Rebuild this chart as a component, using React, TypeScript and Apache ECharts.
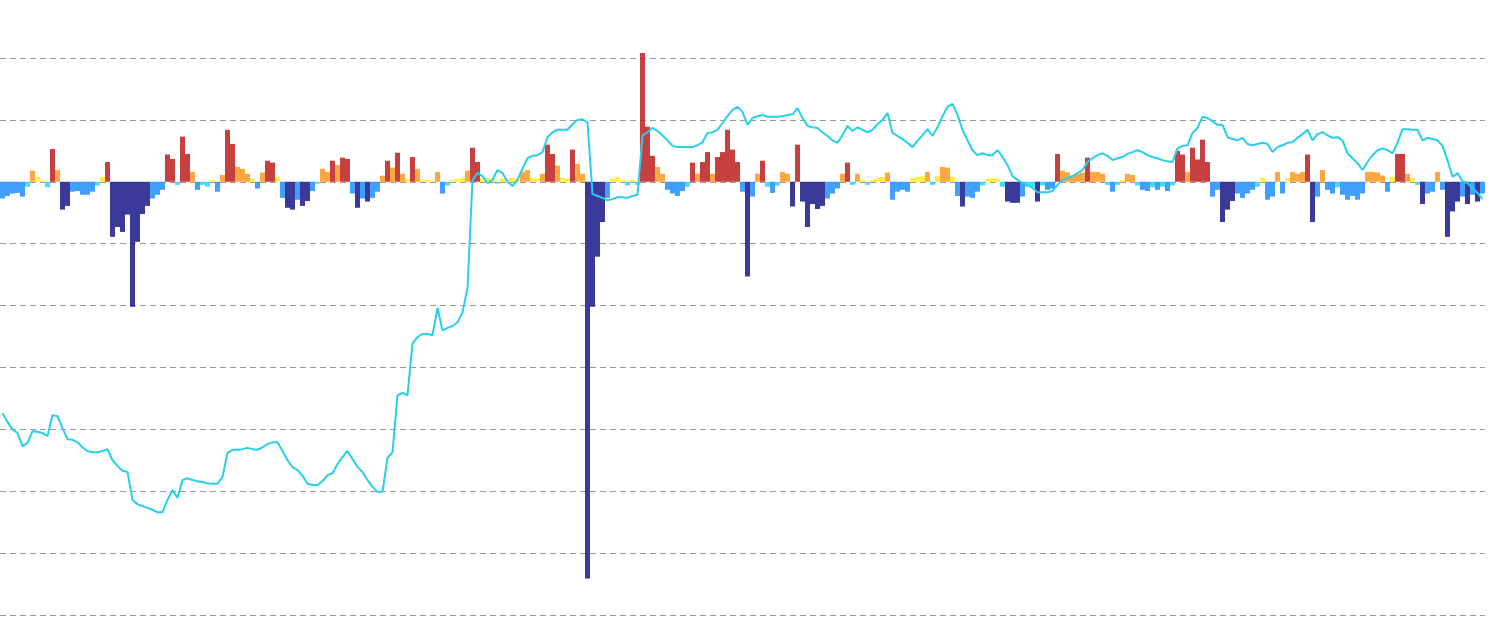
import React, { useEffect, useRef } from "react";
import * as echarts from "echarts";

// Daily change (bars, left axis)
const barValues: number[] = [
  -2.7, -2.3, -1.9, -1.8, -2.4, -0.8, 1.8, 0.8, 0.2, -0.9,
  5.3, 1.9, -4.5, -3.9, -1.6, -1.5, -2.1, -2.1, -1.6, -0.6,
  0.8, 3.2, -8.9, -7.3, -8.1, -5.3, -20.2, -9.7, -5.2, -3.9,
  -2.7, -2.1, -1.3, 4.4, 3.7, -0.5, 7.3, 4.5, 1.6, -1.3,
  -0.5, -0.8, 0.3, -1.6, 1.1, 8.4, 6.1, 2.4, 2.1, 1.3,
  0.5, -1.1, 1.5, 3.4, 3.1, 0.8, -2.6, -4.2, -4.5, -2.9,
  -3.9, -3.1, -1.5, -0.3, 2.1, 1.6, 3.4, 2.7, 3.9, 3.7,
  -1.9, -4.2, -2.7, -3.2, -2.6, -1.6, 1.0, 3.4, 2.3, 4.7,
  1.3, 0.5, 4.0, 2.1, 0.3, 0.3, 0.2, 1.6, -1.9, -0.6,
  0.3, 0.5, 0.6, 1.8, 5.5, 3.2, 0.5, 0.6, 0.5, -0.3,
  0.5, 0.3, 0.6, 0.3, 1.6, 1.9, 0.6, 0.5, 1.3, 6.0,
  4.5, 2.6, 0.6, 0.5, 5.2, 2.9, 1.3, -64.1, -20.2, -12.1,
  -6.5, -2.6, 0.5, 0.8, 0.3, -0.6, 0.3, -0.5, 20.8, 8.9,
  4.2, 2.4, 1.3, -1.3, -1.9, -2.3, -1.5, -0.8, 3.1, 1.3,
  3.2, 4.8, 1.3, 4.0, 4.8, 8.4, 5.2, 3.2, -1.6, -15.3,
  -2.4, 1.3, 3.4, -0.8, -1.8, -0.6, 1.6, 1.3, -4.0, 6.0,
  -3.2, -7.3, -3.6, -4.4, -3.9, -2.7, -1.9, -1.1, 1.3, 3.1,
  -0.5, 1.3, 0.3, -0.5, 0.3, 0.6, 0.8, 1.5, -2.9, -1.6,
  -1.3, -1.6, 0.6, 0.8, 0.9, 1.6, -0.5, 0.9, 2.4, 2.3,
  0.8, -2.3, -4.0, -2.4, -2.6, -1.6, -0.6, 0.5, 0.6, 0.5,
  -0.8, -3.2, -3.4, -3.4, -2.4, -0.8, -0.9, -3.2, -0.6, -1.3,
  -1.1, 4.5, 1.8, 1.5, 1.0, 1.3, 1.5, 3.9, 1.6, 1.6,
  1.3, -0.5, -1.6, -0.5, 0.3, 1.3, 1.1, -0.6, -1.3, -1.5,
  -0.9, -1.3, -0.8, -1.5, -0.6, 5.0, 4.4, 1.6, 5.5, 3.6,
  6.8, 3.2, -2.4, -1.3, -6.5, -4.5, -3.1, -1.9, -2.6, -1.9,
  -1.3, -0.8, 0.6, -2.9, -2.4, 1.6, -1.9, 0.6, 1.6, 1.3,
  1.6, 4.4, -6.5, -2.4, 1.9, -1.3, -1.9, -0.9, -2.1, -2.9,
  -2.3, -2.9, -1.9, 1.6, 1.6, 1.5, 1.0, -1.6, 0.8, 4.5,
  4.5, 1.3, 0.6, -0.5, -3.6, -1.9, -1.6, 1.6, -1.3, -8.9,
  -4.8, -3.2, -2.4, -3.6, -2.1, -3.2, -1.9,
];

// Level (line, right axis)
const lineValues: number[] = [
  32.6, 31.2, 30.0, 29.4, 27.3, 27.8, 29.7, 29.6, 29.4, 28.9,
  32.3, 32.1, 30.2, 28.4, 28.3, 27.9, 27.1, 26.5, 26.3, 26.3,
  26.5, 26.8, 25.0, 24.1, 23.3, 23.1, 18.6, 17.9, 17.6, 17.3,
  17.0, 16.6, 16.6, 18.6, 20.2, 18.9, 21.8, 22.1, 21.8, 21.6,
  21.5, 21.3, 21.2, 21.2, 22.3, 26.2, 26.7, 26.7, 26.8, 27.0,
  26.8, 26.7, 27.1, 27.6, 27.9, 27.9, 26.5, 25.0, 23.9, 23.4,
  22.5, 21.2, 21.0, 21.0, 21.6, 22.6, 22.9, 24.4, 25.5, 26.5,
  25.2, 23.9, 23.1, 21.8, 20.7, 19.9, 19.9, 25.4, 26.3, 35.5,
  35.9, 35.5, 43.9, 44.9, 45.4, 45.4, 45.2, 49.6, 46.0, 46.4,
  46.7, 47.3, 48.9, 52.8, 70.3, 71.4, 70.9, 69.8, 70.3, 71.9,
  71.4, 70.0, 69.3, 70.3, 72.1, 73.8, 74.2, 74.3, 74.8, 77.2,
  78.0, 78.4, 78.4, 78.4, 79.3, 80.0, 80.1, 79.6, 68.0, 67.7,
  67.4, 67.0, 67.2, 67.5, 67.5, 67.4, 67.7, 67.9, 77.5, 78.0,
  78.7, 78.2, 77.5, 76.7, 75.8, 75.6, 75.6, 75.6, 75.6, 75.9,
  76.4, 77.9, 78.0, 78.4, 79.5, 80.6, 81.6, 82.1, 81.3, 79.2,
  80.3, 80.6, 80.8, 80.5, 80.5, 80.5, 80.6, 80.8, 80.9, 81.9,
  80.3, 79.0, 78.8, 78.7, 78.0, 77.4, 76.7, 76.3, 77.5, 79.0,
  78.2, 78.8, 78.4, 78.0, 78.4, 79.3, 80.0, 81.1, 77.9, 77.4,
  76.9, 76.3, 75.6, 76.6, 77.5, 78.5, 77.4, 78.8, 80.6, 82.1,
  82.6, 80.8, 78.4, 76.7, 75.1, 74.3, 74.6, 74.3, 74.3, 75.1,
  74.0, 72.7, 70.9, 70.3, 69.8, 69.5, 69.0, 68.3, 68.3, 68.3,
  68.5, 69.5, 70.3, 70.6, 70.9, 71.4, 71.9, 73.2, 73.8, 74.3,
  74.6, 74.2, 73.5, 73.8, 74.0, 74.5, 74.8, 75.1, 74.8, 74.3,
  74.0, 73.8, 73.5, 73.3, 73.2, 75.4, 75.8, 75.9, 77.9, 78.7,
  80.5, 80.3, 79.8, 79.2, 79.2, 77.2, 76.9, 76.7, 77.1, 76.1,
  75.9, 76.1, 76.3, 76.1, 74.8, 75.6, 75.9, 76.3, 76.4, 77.1,
  77.7, 78.4, 76.7, 77.7, 78.0, 77.5, 77.1, 77.2, 76.7, 74.6,
  73.8, 73.0, 71.9, 73.2, 74.3, 75.1, 75.4, 75.1, 74.6, 76.3,
  78.5, 78.5, 78.4, 78.4, 76.7, 77.1, 76.9, 76.7, 75.8, 73.5,
  70.8, 71.4, 70.1, 69.8, 69.0, 68.2, 67.2,
];

const categories: string[] = barValues.map((_, i) => String(i + 1));

// colour bands for the bars
const bandLimits = [-3, -1, 0, 1, 3];
const bandColors = ["#25258f", "#2c95ff", "#2edcff", "#ffee2e", "#ff9e2e", "#c02b2b"];

export default function App() {
  const ref = useRef<HTMLDivElement>(null);

  useEffect(() => {
    if (!ref.current) return;
    const chart = echarts.init(ref.current, null, { renderer: "svg" });
    const pieces = [
      { lt: bandLimits[0], color: bandColors[0] },
      { gte: bandLimits[0], lt: bandLimits[1], color: bandColors[1] },
      { gte: bandLimits[1], lt: bandLimits[2], color: bandColors[2] },
      { gte: bandLimits[2], lt: bandLimits[3], color: bandColors[3] },
      { gte: bandLimits[3], lt: bandLimits[4], color: bandColors[4] },
      { gte: bandLimits[4], color: bandColors[5] },
    ];
    chart.setOption({
      animation: false,
      grid: { left: 0, right: 5, top: 58, bottom: 18, containLabel: false },
      xAxis: {
        type: "category",
        data: categories,
        show: false,
      },
      yAxis: [
        {
          type: "value",
          min: -70,
          max: 20,
          interval: 10,
          axisLabel: { show: false },
          axisLine: { show: false },
          axisTick: { show: false },
          splitLine: {
            show: true,
            lineStyle: { color: "#9a9a9a", width: 1, type: [6, 4] },
          },
        },
        {
          type: "value",
          min: 0,
          max: 90,
          show: false,
          splitLine: { show: false },
        },
      ],
      visualMap: {
        type: "piecewise",
        show: false,
        seriesIndex: 1,
        pieces,
      },
      series: [
        {
          type: "line",
          yAxisIndex: 1,
          data: lineValues,
          symbol: "none",
          lineStyle: { color: "#26d0ec", width: 2 },
          itemStyle: { color: "#26d0ec" },
        },
        {
          type: "bar",
          yAxisIndex: 0,
          data: barValues,
          barCategoryGap: "0%",
          clip: false,
          itemStyle: { opacity: 0.9 },
        },
      ],
    });
    return () => chart.dispose();
  }, []);

  return (
    <div
      ref={ref}
      style={{ position: "fixed", left: 0, top: 0, width: 1490, height: 633 }}
    />
  );
}
